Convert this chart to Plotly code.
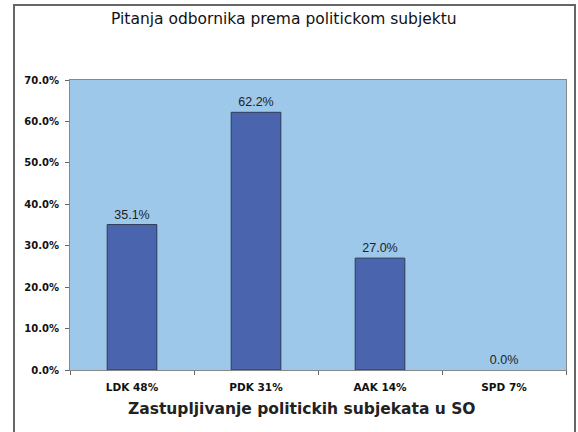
import plotly.graph_objects as go

categories = ["LDK 48%", "PDK 31%", "AAK 14%", "SPD 7%"]
values = [35.1, 62.2, 27.0, 0.0]
y_ticks = [0, 10, 20, 30, 40, 50, 60, 70]
y_tick_labels = [f"{v:.1f}%" for v in y_ticks]
title_text = "Pitanja odbornika prema politickom subjektu"
x_title_text = "Zastupljivanje politickih subjekata u SO"

fig = go.Figure()
fig.add_trace(go.Bar(
    x=categories, y=values,
    width=0.4,
    marker=dict(color="#4A64AE",
                line=dict(color="#2E3A55", width=[1 if v > 0 else 0 for v in values])),
    text=[f"{v:.1f}%" for v in values],
    textposition="outside",
    textfont=dict(family="Arial, Liberation Sans", size=12.5, color="#222"),
    cliponaxis=False,
    hoverinfo="skip",
))

L, R, T, B = 70, 12, 80, 62
W, H = 578, 432
pw, ph = W - L - R, H - T - B

def px(x):
    return (x - L) / pw

def py(y):
    return (H - B - y) / ph

fig.update_layout(
    width=W, height=H,
    margin=dict(l=L, r=R, t=T, b=B),
    paper_bgcolor="white",
    plot_bgcolor="#9DC8EA",
    showlegend=False,
    bargap=0.6,
    xaxis=dict(
        type="category",
        tickson="boundaries",
        ticks="outside", ticklen=4, tickcolor="#666",
        ticklabelstandoff=7,
        showline=True, linecolor="#888", linewidth=1, mirror=True,
        tickfont=dict(family="DejaVu Sans", size=10.5, color="#111", weight="bold"),
        showgrid=False,
    ),
    yaxis=dict(
        range=[0, 70],
        tickvals=y_ticks, ticktext=y_tick_labels,
        ticks="outside", ticklen=4, tickcolor="#666",
        ticklabelstandoff=4,
        showline=True, linecolor="#888", linewidth=1, mirror=True,
        tickfont=dict(family="DejaVu Sans", size=10, color="#111", weight="bold"),
        showgrid=False, zeroline=False,
    ),
    shapes=[dict(
        type="rect", xref="paper", yref="paper",
        x0=px(14), x1=px(575), y0=py(440), y1=py(5),
        line=dict(color="#666", width=2), fillcolor="rgba(0,0,0,0)", layer="below",
    )],
    annotations=[
        dict(text=title_text, xref="paper", yref="paper", x=px(284), y=py(19),
             xanchor="center", yanchor="middle", showarrow=False,
             font=dict(family="DejaVu Sans", size=15.5, color="#111")),
        dict(text=x_title_text, xref="paper", yref="paper", x=px(302), y=py(409),
             xanchor="center", yanchor="middle", showarrow=False,
             font=dict(family="DejaVu Sans", size=15.5, color="#222", weight="bold")),
    ],
)

fig.write_html("out.html", config={"displayModeBar": False},
               post_script="document.body.style.margin='0px';")
